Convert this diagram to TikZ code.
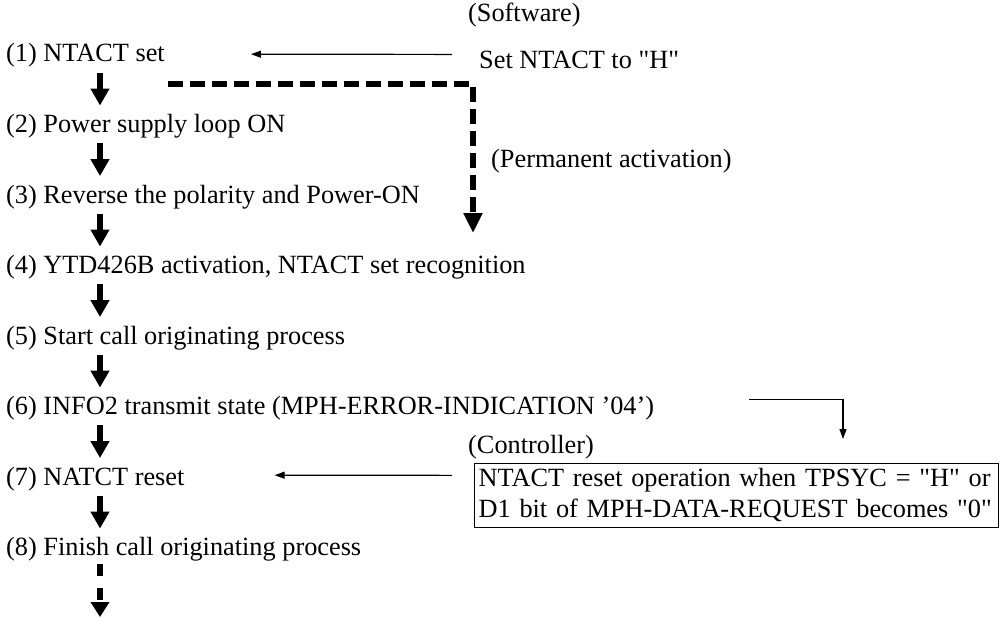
\documentclass[tikz,border=0pt]{standalone}
\usepackage{fontspec}
\setmainfont{Liberation Serif}
\usetikzlibrary{arrows.meta,calc}

\newcommand{\qq}[1]{\textquotedbl#1\textquotedbl}

\begin{document}
\begin{tikzpicture}[x=1pt,y=-1pt,font=\fontsize{26.3}{31}\selectfont,
    every node/.style={inner sep=0pt,anchor=base west},
    flow/.style={line width=6pt,-{Triangle[width=18pt,length=17pt]}},
    dashflow/.style={line width=5.5pt,dash pattern=on 15pt off 7pt,-{Triangle[width=18pt,length=20pt]}},
    tailflow/.style={line width=6pt,dash pattern=on 12pt off 12pt,-{Triangle[width=18pt,length=15pt]}},
    thinarrow/.style={line width=1.2pt,-{Triangle[width=7pt,length=10pt]}}]
    \useasboundingbox (0,0) rectangle (1000,618);

    % steps
    \node (s1) at (6,62) {(1) NTACT set};
    \node (s2) at (6,132.5) {(2) Power supply loop ON};
    \node (s3) at (6,203) {(3) Reverse the polarity and Power-ON};
    \node (s4) at (6,273.5) {(4) YTD426B activation, NTACT set recognition};
    \node (s5) at (6,344) {(5) Start call originating process};
    \node (s6) at (6,414.5) {(6) INFO2 transmit state (MPH-ERROR-INDICATION '04')};
    \node (s7) at (6,485) {(7) NATCT reset};
    \node (s8) at (6,555.5) {(8) Finish call originating process};

    \coordinate (col) at (100,0);
    \draw[flow] ($(s1.south -| col)+(0,5)$) -- ($(s2.north -| col)+(0,-8.5)$);
    \draw[flow] ($(s2.south -| col)+(0,5)$) -- ($(s3.north -| col)+(0,-8.5)$);
    \draw[flow] ($(s3.south -| col)+(0,5)$) -- ($(s4.north -| col)+(0,-8.5)$);
    \draw[flow] ($(s4.south -| col)+(0,5)$) -- ($(s5.north -| col)+(0,-8.5)$);
    \draw[flow] ($(s5.south -| col)+(0,5)$) -- ($(s6.north -| col)+(0,-8.5)$);
    \draw[flow] ($(s6.south -| col)+(0,5)$) -- ($(s7.north -| col)+(0,-8.5)$);
    \draw[flow] ($(s7.south -| col)+(0,5)$) -- ($(s8.north -| col)+(0,-8.5)$);
    \coordinate (tail) at (100,617);
    \draw[tailflow] ($(s8.south -| col)+(0,3)$) -- (tail);

    % software side
    \node (sw) at (468,22) {(Software)};
    \node (seth) at (479,68) {Set NTACT to \qq{H}};
    \node (perm) at (491,167) {(Permanent activation)};
    \draw[thinarrow] ([xshift=-27pt,yshift=5pt]seth.west) -- ([xshift=86pt,yshift=1.5pt]s1.east);
    \coordinate (permdrop) at (473,233);
    \draw[dashflow] ($(s1.south east)+(3,16)$) -| (permdrop);

    % controller side
    \coordinate (infodrop) at (843,439);
    \draw[thinarrow] ([xshift=95pt,yshift=9pt]s6.east) -| (infodrop);
    \node (ctl) at (468,453) {(Controller)};
    \node[draw,line width=1.2pt,anchor=north west,text width=516pt,inner xsep=4pt,inner ysep=5pt,align=left]
      (cond) at (474,463) {NTACT reset operation when TPSYC = \qq{H} or\\D1 bit of MPH-DATA-REQUEST becomes \qq{0}};
    \draw[thinarrow] ([xshift=-22pt,yshift=20pt]cond.west) -- ([xshift=90pt,yshift=3.5pt]s7.east);
  \end{tikzpicture}
\end{document}
